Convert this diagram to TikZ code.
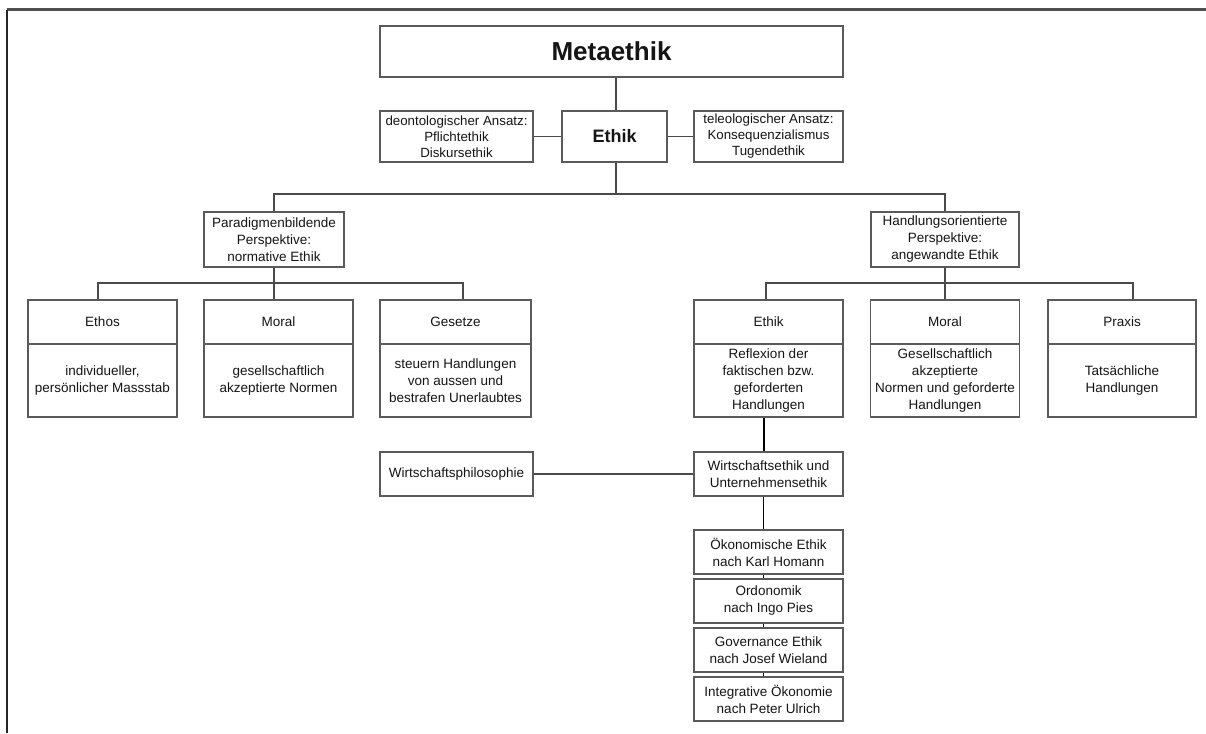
\documentclass[tikz,border=0pt]{standalone}
\usepackage{fontspec}
\setmainfont{Liberation Sans}
\definecolor{boxgray}{HTML}{5A5A5A}
\definecolor{linegray}{HTML}{4A4A4A}
\definecolor{textc}{HTML}{151515}
\definecolor{framec}{HTML}{505050}
\begin{document}
\begin{tikzpicture}[x=1pt,y=-1pt,
  box/.style={draw=boxgray, line width=1.2pt, fill=white, inner sep=0pt, align=center, text=textc,
    font=\fontsize{13.5}{17}\selectfont},
  smallbox/.style={box, font=\fontsize{13.3}{16}\selectfont},
  conn/.style={draw=linegray, line width=1.1pt},
  strongconn/.style={draw=black, line width=1.9pt},
  row/.style={box, minimum width=149pt},
  head/.style={row, minimum height=44pt},
  body/.style={row, minimum height=73pt},
  stack/.style={box, minimum width=149pt, minimum height=44pt}
]
\useasboundingbox (0,0) rectangle (1206,733);
% frame of the screenshot
\draw[framec, line width=3pt] (7,10) -- (1206,10);
\draw[black!85, line width=2.5pt] (7,10) -- (7,733);

% top
\node[box, minimum width=463pt, minimum height=51pt, font=\fontsize{26}{30}\selectfont\bfseries] (meta) at (611.5,51.5) {Metaethik};
\node[box, minimum width=105pt, minimum height=51pt, font=\fontsize{18}{22}\selectfont\bfseries] (ethik) at (614.5,136.5) {Ethik};
\node[smallbox, minimum width=153pt, minimum height=51pt] (deont) at (456.5,136.5) {deontologischer Ansatz:\\Pflichtethik\\Diskursethik};
\node[smallbox, minimum width=149pt, minimum height=51pt] (teleo) at (768.5,136.5) {teleologischer Ansatz:\\Konsequenzialismus\\Tugendethik};

% perspectives
\node[box, minimum width=140pt, minimum height=55pt] (para) at (274,239.5) {Paradigmenbildende\\Perspektive:\\normative Ethik};
\node[box, minimum width=148pt, minimum height=55pt] (handl) at (945,239.5) {Handlungsorientierte\\Perspektive:\\angewandte Ethik};

% left row
\node[head] (ethosH) at (102.5,322) {Ethos};
\node[body] (ethosB) at (102.5,380.5) {individueller,\\persönlicher Massstab};
\node[head] (moralH) at (278.5,322) {Moral};
\node[body] (moralB) at (278.5,380.5) {gesellschaftlich\\akzeptierte Normen};
\node[head, minimum width=151pt] (gesH) at (455.5,322) {Gesetze};
\node[body, minimum width=151pt] (gesB) at (455.5,380.5) {steuern Handlungen\\von aussen und\\bestrafen Unerlaubtes};

% right row
\node[head] (ethikzH) at (768.5,322) {Ethik};
\node[body] (ethikzB) at (768.5,380.5) {Reflexion der\\faktischen bzw.\\geforderten\\Handlungen};
\node[head] (moralzH) at (945,322) {Moral};
\node[body] (moralzB) at (945,380.5) {Gesellschaftlich\\akzeptierte\\Normen und geforderte\\Handlungen};
\node[head, minimum width=148pt] (praxH) at (1122,322) {Praxis};
\node[body, minimum width=148pt] (praxB) at (1122,380.5) {Tatsächliche\\Handlungen};

% lower part
\node[box, minimum width=153pt, minimum height=44pt] (wphil) at (456.5,474) {Wirtschaftsphilosophie};
\node[stack] (wethik) at (768.5,474) {Wirtschaftsethik und\\Unternehmensethik};
\node[stack] (oek) at (768.5,552) {Ökonomische Ethik\\nach Karl Homann};
\node[stack] (ordo) at (768.5,601) {Ordonomik\\nach Ingo Pies};
\node[stack] (gov) at (768.5,650) {Governance Ethik\\nach Josef Wieland};
\node[stack] (integ) at (768.5,699) {Integrative Ökonomie\\nach Peter Ulrich};

% bar coordinates
\coordinate (barA) at (0,194);
\coordinate (barB) at (0,283);

% connectors top
\draw[conn] ([xshift=1.5pt]ethik.north) -- ([xshift=1.5pt]ethik.north |- meta.south);
\draw[conn] (deont.east) -- (ethik.west);
\draw[conn] (ethik.east) -- (teleo.west);
\draw[conn] ([xshift=1.5pt]ethik.south) -- ([xshift=1.5pt]ethik.south |- barA);
\draw[conn] (para.north) |- (handl.north |- barA) -- (handl.north);

% left group
\draw[conn] (para.south) -- (para.south |- ethosH.north);
\draw[conn] ([xshift=-4.5pt]ethosH.north) |- ([xshift=7.5pt]gesH.north |- barB) -- ([xshift=7.5pt]gesH.north);

% right group
\draw[conn] (handl.south) -- (handl.south |- moralzH.north);
\draw[conn] ([xshift=-2.5pt]ethikzH.north) |- ([xshift=11pt]praxH.north |- barB) -- ([xshift=11pt]praxH.north);

% lower connectors
\draw[strongconn] ([xshift=-4.5pt]wethik.north) -- ([xshift=-4.5pt]wethik.north |- ethikzB.south);
\draw[conn] (wphil.east) -- (wethik.west);
\draw[strongconn] ([xshift=-5pt]oek.north) -- ([xshift=-5pt]oek.north |- wethik.south);
\draw[strongconn] ([xshift=-5pt]ordo.north) -- ([xshift=-5pt]ordo.north |- oek.south);
\draw[strongconn] ([xshift=-5pt]gov.north) -- ([xshift=-5pt]gov.north |- ordo.south);
\draw[strongconn] ([xshift=-5pt]integ.north) -- ([xshift=-5pt]integ.north |- gov.south);
\end{tikzpicture}
\end{document}
